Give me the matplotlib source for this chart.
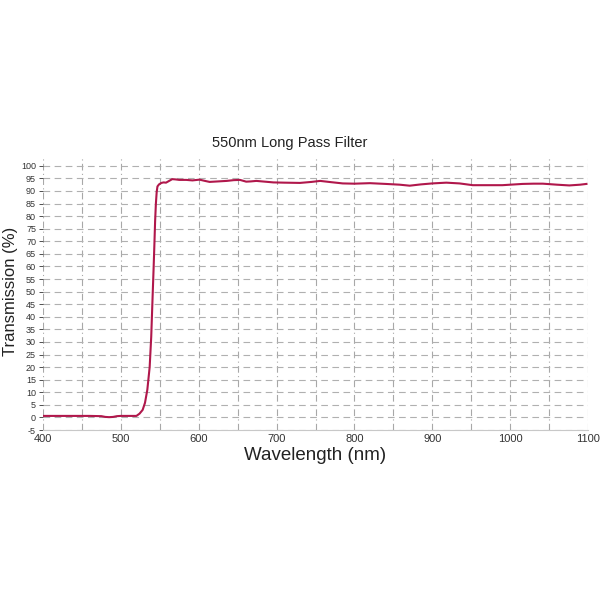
import matplotlib
matplotlib.use("Agg")
import matplotlib.pyplot as plt

plt.rcParams['font.family'] = ['Liberation Sans', 'DejaVu Sans']
plt.rcParams['axes.unicode_minus'] = False

wavelength = [400, 420, 440, 460, 475, 480, 485, 490, 495, 500, 510, 520, 524, 528,
              531, 534, 537, 539, 541, 542, 543, 544, 545, 546, 547, 549, 552, 555,
              558, 562, 566, 570, 575, 584, 592, 601, 608, 614, 625, 636, 645, 653,
              661, 667, 674, 685, 696, 710, 730, 745, 756, 770, 785, 800, 820, 840,
              858, 871, 885, 900, 918, 935, 952, 970, 990, 1016, 1030, 1042, 1060,
              1076, 1090, 1098]
transmission = [0.6, 0.6, 0.6, 0.6, 0.5, 0.2, 0.1, 0.2, 0.5, 0.6, 0.6, 0.6, 1.5, 3.0,
                5.8, 11.0, 20.0, 32.0, 50.0, 58.7, 68.0, 78.0, 85.0, 89.5, 91.8, 92.6,
                93.2, 93.4, 93.3, 94.0, 94.7, 94.6, 94.4, 94.4, 94.2, 94.5, 94.0, 93.6,
                93.8, 94.0, 94.3, 94.4, 93.7, 93.8, 94.0, 93.7, 93.4, 93.3, 93.2, 93.6,
                94.0, 93.5, 93.0, 92.9, 93.1, 92.8, 92.5, 92.1, 92.6, 93.0, 93.3, 93.0,
                92.3, 92.3, 92.3, 92.8, 92.9, 92.9, 92.5, 92.2, 92.5, 92.8]

x_ticks = [400, 500, 600, 700, 800, 900, 1000, 1100]
y_ticks = list(range(-5, 101, 5))

fig = plt.figure(figsize=(6, 6), dpi=100)
ax = fig.add_axes([43/600, 1 - 430/600, 545/600, 273/600])

ax.plot(wavelength, transmission, color='#b0174b', lw=1.5, zorder=3)

ax.set_xlim(400, 1100)
ax.set_ylim(-5, 103.5)
ax.set_xticks(x_ticks)
ax.set_xticks(list(range(400, 1101, 50)), minor=True)
ax.set_yticks(y_ticks)

ax.grid(True, which='both', axis='x', color='#a8a8a8', lw=0.8, linestyle=(0, (6, 3, 1, 3)))
ax.grid(True, which='major', axis='y', color='#b0b0b0', lw=0.8, linestyle=(0, (6, 4)))
ax.set_axisbelow(True)

for s in ['top', 'right', 'left']:
    ax.spines[s].set_visible(False)
ax.spines['bottom'].set_color('#c8c8c8')
ax.spines['bottom'].set_linewidth(0.8)

ax.tick_params(axis='y', labelsize=6.5, colors='#333333', length=3, width=0.6, pad=2)
ax.tick_params(axis='x', which='major', labelsize=8, colors='#333333', length=0, pad=3)
ax.tick_params(axis='x', which='minor', length=0)

fig.text(290/600, 1 - 143/600, '550nm Long Pass Filter', fontsize=10.5, color='#222222',
         ha='center', va='center')
ax.set_xlabel('Wavelength (nm)', fontsize=13.5, color='#222222', labelpad=2)
ax.set_ylabel('Transmission (%)', fontsize=12, color='#222222')
ax.yaxis.set_label_coords((11 - 43) / 545, (430 - 291) / 273)
ax.yaxis.label.set_va('center')

fig.savefig('out.png', dpi=100, facecolor='white')
